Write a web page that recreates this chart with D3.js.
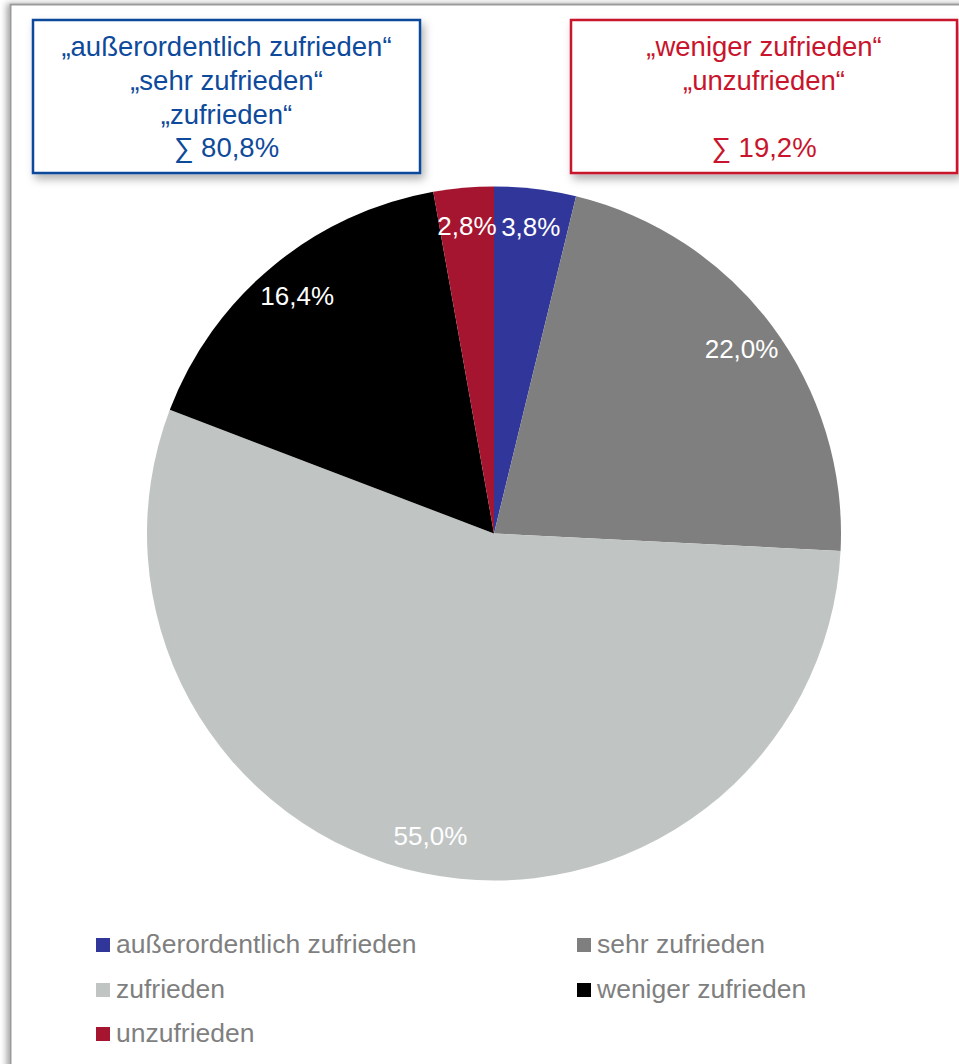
<!DOCTYPE html>
<html lang="de">
<head>
<meta charset="utf-8">
<script src="https://cdn.jsdelivr.net/npm/d3@7"></script>
<style>
  html, body { margin: 0; padding: 0; background: #fff; overflow: hidden; }
  svg { display: block; font-family: "Liberation Sans", Arial, sans-serif; }
</style>
</head>
<body>
<svg id="chart" width="959" height="1064"></svg>
<script>
// Zufriedenheit – Anteile in Prozent
const categories = ["außerordentlich zufrieden", "sehr zufrieden", "zufrieden", "weniger zufrieden", "unzufrieden"];
const values = [3.8, 22.0, 55.0, 16.4, 2.8];
const colors = ["#31369A", "#7F7F7F", "#C0C5C4", "#000000", "#A5152F"];

// Summenkästen
const positiveLines = ["„außerordentlich zufrieden“", "„sehr zufrieden“", "„zufrieden“", "∑ 80,8%"];
const negativeLines = ["„weniger zufrieden“", "„unzufrieden“", "", "∑ 19,2%"];

const fmt = v => d3.format(".1f")(v).replace(".", ",") + "%";

const svg = d3.select("#chart");
const defs = svg.append("defs");

const frameShadow = defs.append("filter").attr("id", "frameShadow")
  .attr("x", "-5%").attr("y", "-5%").attr("width", "110%").attr("height", "110%");
frameShadow.append("feDropShadow").attr("dx", -3).attr("dy", 0).attr("stdDeviation", 3)
  .attr("flood-color", "#000").attr("flood-opacity", 0.35);

const boxShadow = defs.append("filter").attr("id", "boxShadow")
  .attr("x", "-10%").attr("y", "-10%").attr("width", "125%").attr("height", "130%");
boxShadow.append("feDropShadow").attr("dx", 3).attr("dy", 5).attr("stdDeviation", 4)
  .attr("flood-color", "#000").attr("flood-opacity", 0.3);

// Rahmen des Diagramms
svg.append("rect")
  .attr("x", 10.5).attr("y", 4.5).attr("width", 1000).attr("height", 1100)
  .attr("fill", "#fff").attr("stroke", "#9B9B9B").attr("stroke-width", 2)
  .attr("filter", "url(#frameShadow)");

// Kreisdiagramm
const cx = 494, cy = 533.5, radius = 347;
const pie = d3.pie().sort(null).value(d => d.value);
const arcs = pie(categories.map((c, i) => ({ name: c, value: values[i], color: colors[i] })));
const arc = d3.arc().innerRadius(0).outerRadius(radius);
const labelArc = d3.arc().innerRadius(radius * 0.89).outerRadius(radius * 0.89);

const g = svg.append("g").attr("transform", `translate(${cx},${cy})`);
g.selectAll("path.slice")
  .data(arcs)
  .join("path")
  .attr("class", "slice")
  .attr("d", arc)
  .attr("fill", d => d.data.color);

g.selectAll("text.val")
  .data(arcs)
  .join("text")
  .attr("class", "val")
  .attr("transform", d => `translate(${labelArc.centroid(d)})`)
  .attr("text-anchor", "middle")
  .attr("dy", "0.35em")
  .attr("fill", "#fff")
  .attr("font-size", 26)
  .text(d => fmt(d.data.value));

// Summenkästen
function sumBox(x, y, w, h, color, lines) {
  const box = svg.append("g");
  box.append("rect")
    .attr("x", x).attr("y", y).attr("width", w).attr("height", h)
    .attr("fill", "#fff").attr("stroke", color).attr("stroke-width", 2.5)
    .attr("filter", "url(#boxShadow)");
  box.selectAll("text")
    .data(lines)
    .join("text")
    .attr("x", x + w / 2)
    .attr("y", (d, i) => y + 36 + i * 33.8)
    .attr("text-anchor", "middle")
    .attr("fill", color)
    .attr("font-size", 27.5)
    .text(d => d);
}
sumBox(33, 20, 387, 153, "#0E4A9B", positiveLines);
sumBox(571, 20, 386, 153, "#C8142C", negativeLines);

// Legende
const legendCols = [96, 577];
const legendRows = [938, 983, 1027];
const legend = svg.append("g");
const items = legend.selectAll("g.item")
  .data(categories)
  .join("g")
  .attr("class", "item")
  .attr("transform", (d, i) => `translate(${legendCols[i % 2]},${legendRows[Math.floor(i / 2)]})`);
items.append("rect")
  .attr("width", 14).attr("height", 14)
  .attr("fill", (d, i) => colors[i]);
items.append("text")
  .attr("x", 20).attr("y", 15)
  .attr("fill", "#7F7F7F")
  .attr("font-size", 26.5)
  .text(d => d);
</script>
</body>
</html>
